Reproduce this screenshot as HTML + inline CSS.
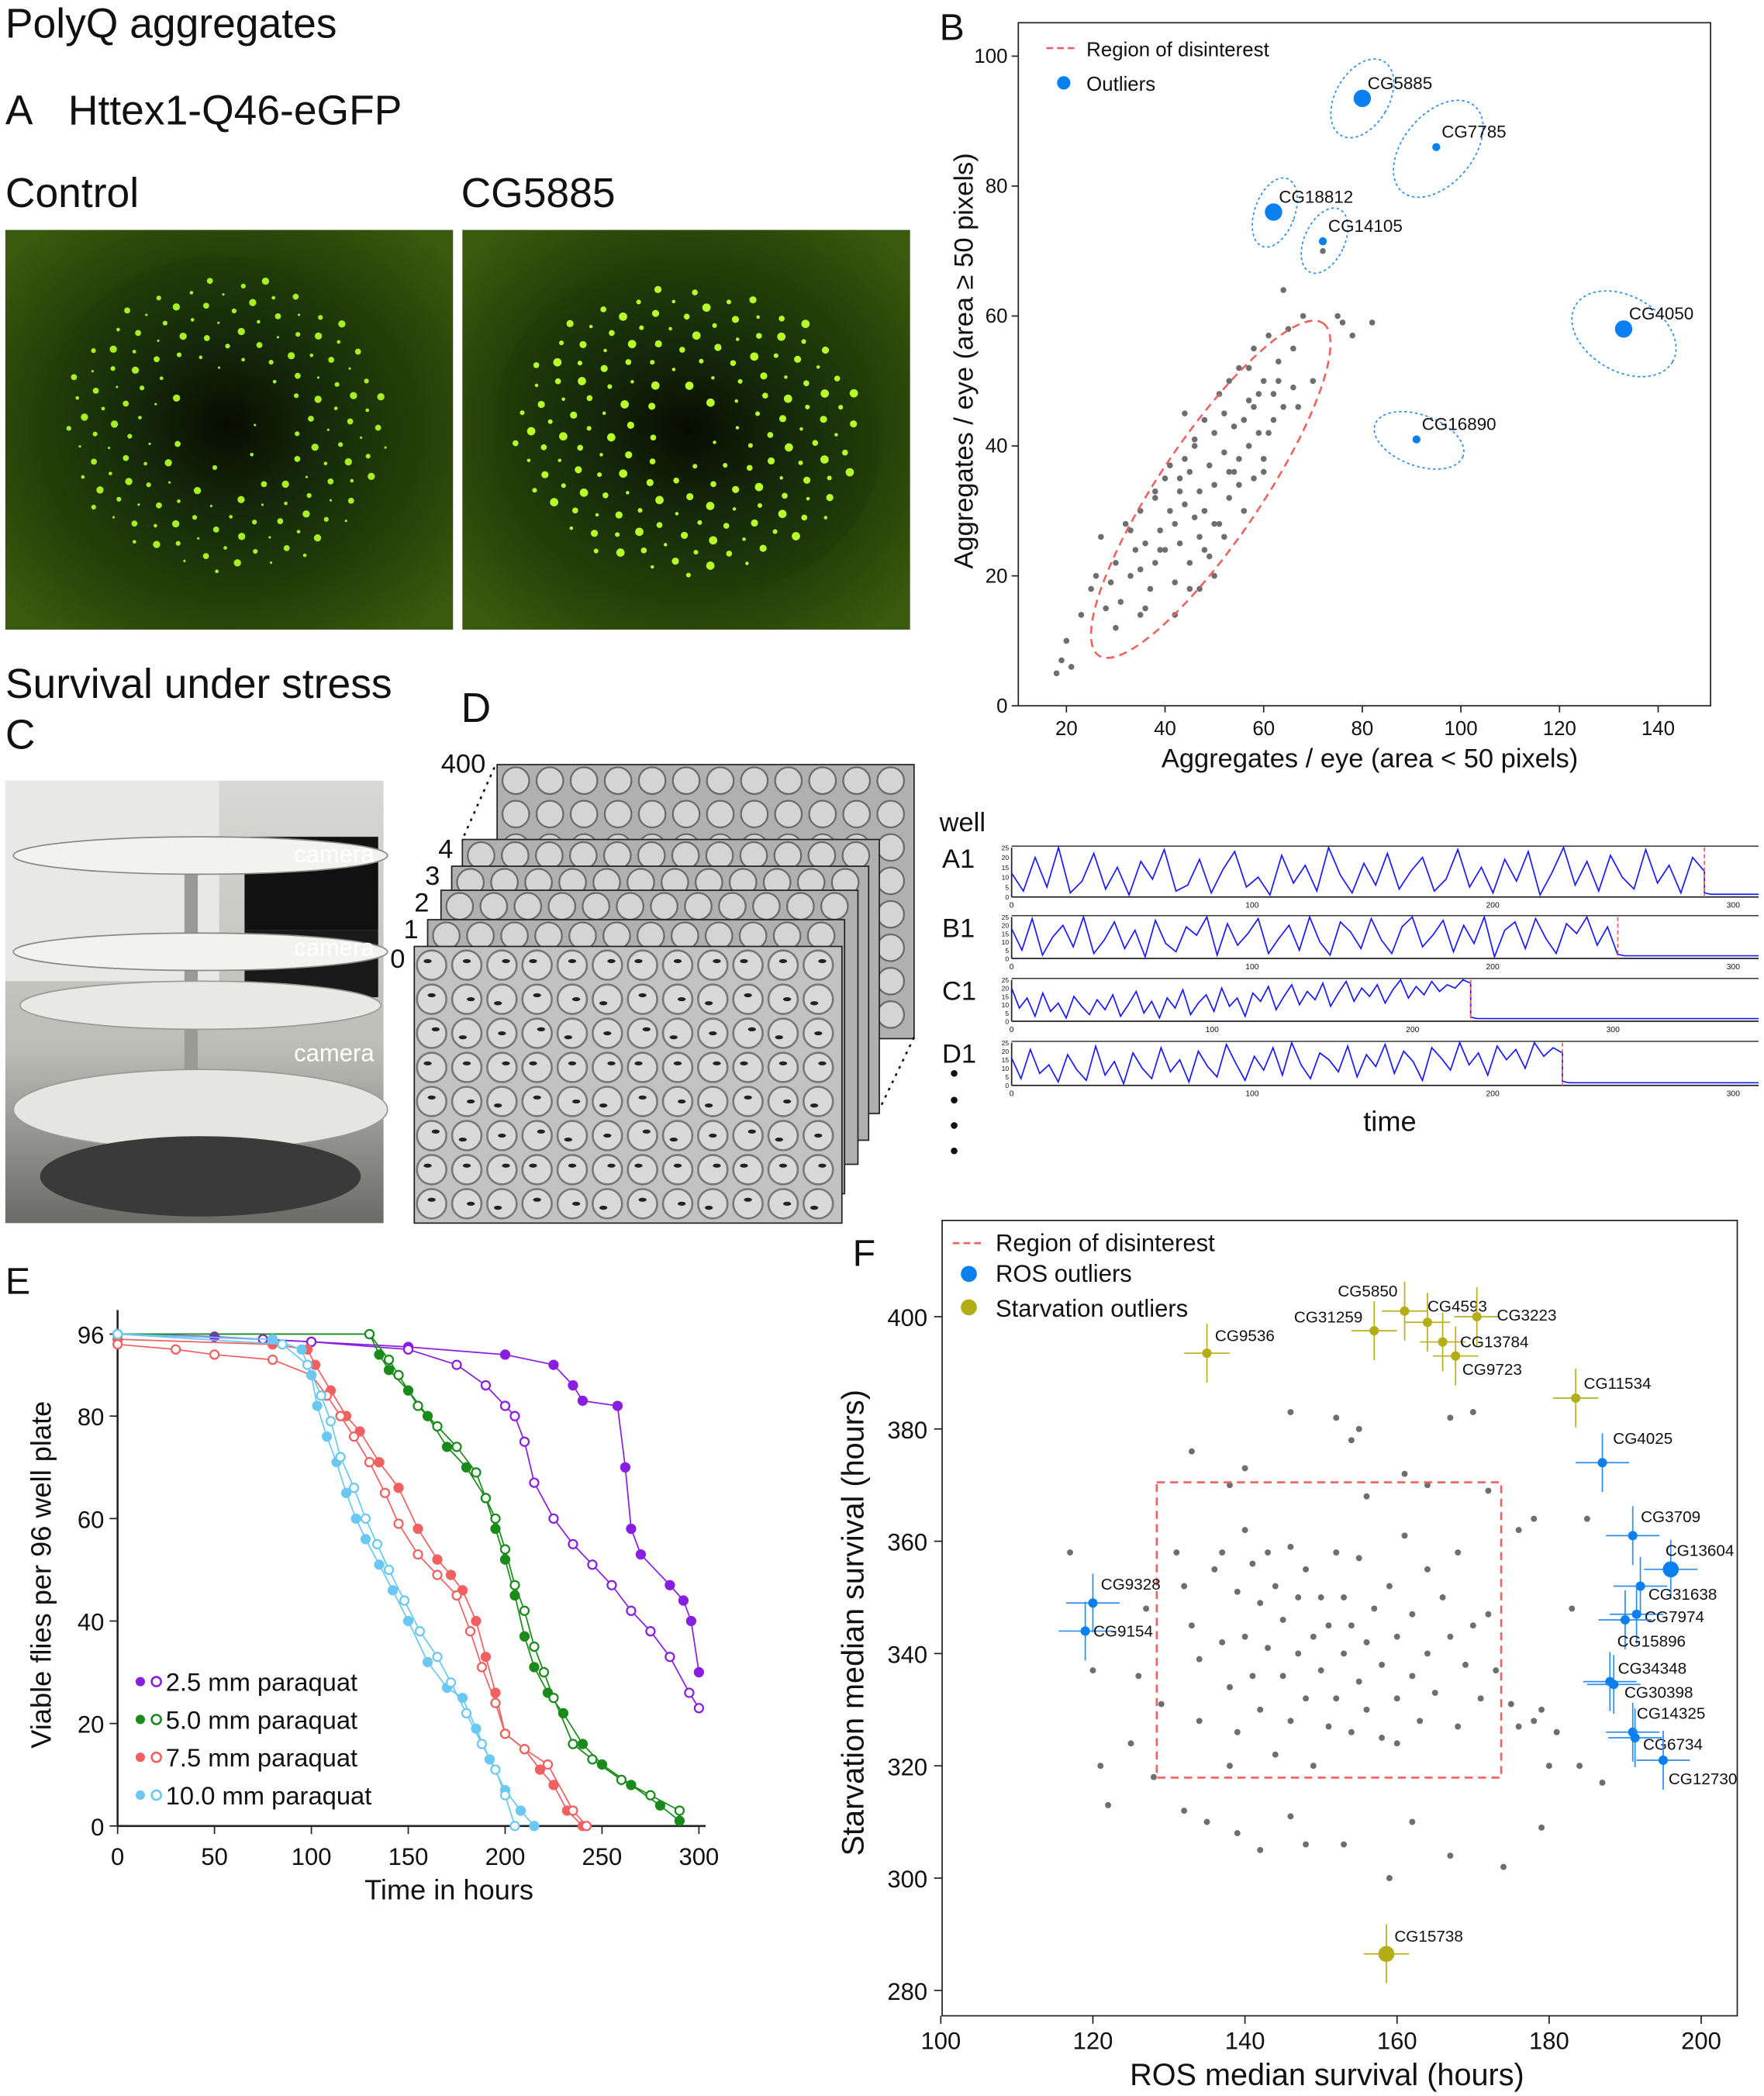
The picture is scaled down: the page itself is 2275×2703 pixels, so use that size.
<!DOCTYPE html>
<html><head><meta charset="utf-8"><style>
html,body{margin:0;padding:0;background:#fff}
svg{display:block}
text{font-family:"Liberation Sans",Arial,sans-serif;fill:#111}
</style></head><body>
<svg id="fig" width="2275" height="2703" viewBox="0 0 1320 1568" preserveAspectRatio="none" xmlns="http://www.w3.org/2000/svg">
<defs>
<radialGradient id="eyebg" cx="50%" cy="50%" r="65%"><stop offset="0" stop-color="#141f04"/><stop offset="0.6" stop-color="#223a06"/><stop offset="1" stop-color="#3a5a0e"/></radialGradient>
<radialGradient id="eye" cx="50%" cy="50%" r="50%"><stop offset="0" stop-color="#070c01"/><stop offset="0.5" stop-color="#15280a"/><stop offset="1" stop-color="#223d08"/></radialGradient>
<linearGradient id="room" x1="0" y1="0" x2="0" y2="1"><stop offset="0" stop-color="#d8d8d4"/><stop offset="0.6" stop-color="#bdbdb8"/><stop offset="1" stop-color="#6a6a68"/></linearGradient>
</defs>
<text x="4" y="28" font-size="31">PolyQ aggregates</text>
<text x="4" y="93" font-size="31">A</text>
<text x="51" y="93" font-size="31">Httex1-Q46-eGFP</text>
<text x="4" y="155" font-size="31">Control</text>
<text x="345" y="155" font-size="31">CG5885</text>
<g id="photoA1"><rect x="4" y="172" width="335" height="299" fill="url(#eyebg)"/><ellipse cx="170" cy="318" rx="135" ry="125" fill="url(#eye)" transform="rotate(20 170 318)"/></g>
<g id="photoA2"><rect x="346" y="172" width="335" height="299" fill="url(#eyebg)"/><ellipse cx="515" cy="322" rx="145" ry="120" fill="url(#eye)" transform="rotate(15 515 322)"/></g>
<text x="4" y="522" font-size="31">Survival under stress</text>
<text x="4" y="560" font-size="31">C</text>
<text x="345" y="540" font-size="31">D</text>
<g>
<rect x="4" y="584" width="283" height="331" fill="url(#room)"/>
<rect x="4" y="584" width="160" height="150" fill="#e8e8e6"/>
<rect x="183" y="626" width="100" height="70" fill="#111"/><rect x="183" y="696" width="100" height="50" fill="#1a1a1a"/>
<rect x="138" y="640" width="10" height="240" fill="#9a9a98"/>
<ellipse cx="150" cy="640" rx="140" ry="14" fill="#f2f2f0" stroke="#888"/>
<ellipse cx="150" cy="712" rx="140" ry="14" fill="#f2f2f0" stroke="#888"/>
<ellipse cx="150" cy="752" rx="135" ry="18" fill="#e8e8e6" stroke="#999"/>
<ellipse cx="150" cy="830" rx="140" ry="30" fill="#e5e5e3" stroke="#999"/>
<ellipse cx="150" cy="880" rx="120" ry="30" fill="#3a3a3a"/>
<text x="220" y="645" font-size="18" style="fill:#fff">camera</text>
<text x="220" y="715" font-size="18" style="fill:#fff">camera</text>
<text x="220" y="794" font-size="18" style="fill:#fff">camera</text>
</g>
<g id="plates"></g>
<g id="panelB"></g>
<g id="panelD"></g>
<g id="panelE"></g>
<g id="panelF"></g>
</svg>
<script>
const NS='http://www.w3.org/2000/svg';
function el(tag,attrs,parent,txt){const e=document.createElementNS(NS,tag);for(const k in attrs)e.setAttribute(k,attrs[k]);if(txt!==undefined)e.textContent=txt;parent.appendChild(e);return e;}

/* ---------- Panel B data ---------- */
const scatterB=[[18,5],[20,10],[21,6],[19,7],[25,18],[27,26],[28,15],[26,20],[30,22],[31,16],[32,28],[33,20],[34,24],[35,30],[35,14],[36,25],[37,18],[38,32],[38,22],[39,27],[40,24],[40,35],[41,30],[42,19],[42,28],[43,33],[43,25],[44,38],[44,31],[45,22],[45,36],[46,29],[46,40],[47,26],[47,33],[48,44],[48,30],[49,37],[49,23],[50,42],[50,34],[51,48],[51,28],[52,39],[52,45],[53,32],[53,50],[54,36],[54,43],[55,38],[55,52],[56,44],[56,30],[57,47],[57,40],[58,55],[58,46],[59,42],[60,50],[60,38],[61,57],[62,48],[62,44],[63,53],[64,64],[65,58],[66,55],[67,46],[68,60],[70,50],[72,70],[75,60],[76,59],[78,57],[30,12],[33,27],[36,15],[39,24],[42,14],[45,18],[48,24],[52,26],[55,34],[58,35],[61,42],[64,46],[47,18],[50,28],[53,36],[56,44],[59,48],[44,45],[41,37],[38,33],[35,21],[50,20],[46,41],[43,35],[63,50],[66,49],[82,59],[60,36],[57,52],[23,14],[29,19]];
const outlierNames=['CG5885','CG7785','CG18812','CG14105','CG4050','CG16890'];
const outlierX=[80,95,62,72,133,91];
const outlierY=[93.5,86,76,71.5,58,41];
const outlierBig=[1,0,1,0,1,0];
const bXTicks=[20,40,60,80,100,120,140];
const bYTicks=[0,20,40,60,80,100];

/* ---------- Panel D data ---------- */
const wells=['A1','B1','C1','D1'];
const deathTimes=[288,252,229,229];
const traceA1=[12,3,20,5,25,2,8,22,4,15,1,18,9,24,3,6,19,2,14,23,5,10,1,21,7,16,3,25,11,2,17,6,22,4,13,20,3,9,24,5,15,2,19,8,23,1,12,25,6,18,3,21,10,4,24,7,16,2,20,13];
const traceB1=[18,5,24,2,13,20,7,25,3,11,22,6,17,1,23,9,4,19,14,25,2,21,8,15,24,3,12,20,5,25,10,2,22,16,6,24,11,3,19,25,7,14,23,4,20,9,25,1,17,22,6,24,12,3,21,15,25,8,19,2];
const traceC1=[20,8,14,3,17,6,11,2,15,9,4,13,7,16,3,10,18,5,12,2,14,8,19,4,11,16,6,20,9,14,3,17,12,21,7,15,22,10,18,13,23,9,17,24,12,20,15,22,11,19,25,14,21,16,24,18,22,20,25,23];
const traceD1=[16,4,21,7,12,2,18,9,3,23,6,14,1,19,10,4,22,8,15,2,20,11,5,24,13,3,17,9,22,6,25,12,4,19,15,8,23,5,18,11,24,7,20,14,3,22,16,9,25,12,19,6,23,15,21,10,25,17,22,19];
const traces=[traceA1,traceB1,traceC1,traceD1];

/* ---------- Panel E data ---------- */
const eTimes25f=[0,50,100,150,200,225,235,240,258,262,265,270,285,292,296,300];
const eCount25f=[96,95.5,94.5,93.5,92,90,86,83,82,70,58,53,47,44,40,30];
const eTimes25o=[0,75,100,150,175,190,200,205,210,215,225,235,245,255,265,275,285,295,300];
const eCount25o=[96,95,94.5,93,90,86,82,80,75,67,60,55,51,47,42,38,33,26,23];
const eTimes50f=[0,130,135,140,150,160,170,180,190,195,200,205,210,215,222,230,240,250,265,280,290];
const eCount50f=[96,96,92,89,85,80,74,70,64,58,52,45,37,31,26,22,16,12,8,4,1];
const eTimes50o=[0,130,140,145,155,165,175,185,190,195,200,205,210,215,220,225,235,245,260,275,290];
const eCount50o=[96,96,91,88,82,78,74,69,64,60,54,47,42,35,30,25,16,13,9,6,3];
const eTimes75f=[0,80,98,102,110,118,125,135,145,155,165,172,178,185,190,195,200,210,218,225,232,240];
const eCount75f=[95,94,93,90,85,80,77,71,66,58,52,49,46,40,33,26,18,15,11,8,3,0];
const eTimes75o=[0,30,50,80,100,108,115,122,130,138,145,155,165,175,182,188,195,200,210,222,235,242];
const eCount75o=[94,93,92,91,88,84,80,76,71,65,59,53,49,45,38,31,24,18,15,12,3,0];
const eTimes10f=[0,80,95,100,103,108,113,118,123,128,135,142,150,160,170,178,185,192,200,208,215];
const eCount10f=[96,95,93,88,82,76,71,65,60,56,51,46,40,32,27,25,19,13,7,3,0];
const eTimes10o=[0,85,98,105,110,115,122,128,134,140,148,156,165,172,180,188,195,200,205];
const eCount10o=[96,94,90,84,79,72,66,60,55,50,44,38,33,28,22,16,11,6,0];
const eLabels=['2.5 mm paraquat','5.0 mm paraquat','7.5 mm paraquat','10.0 mm paraquat'];
const eColors=['#8a1ee0','#1a8a1a','#f06060','#6ac8f2'];
const eXTicks=[0,50,100,150,200,250,300];
const eYTicks=[0,20,40,60,80,96];

/* ---------- Panel F data ---------- */
const scatterF=[[117,358],[120,337],[121,320],[122,313],[125,324],[126,336],[127,348],[129,331],[131,358],[132,352],[133,345],[134,328],[134,339],[135,310],[136,355],[137,342],[137,358],[138,320],[138,334],[139,351],[139,326],[140,343],[140,362],[141,356],[141,336],[142,330],[142,349],[143,358],[143,341],[144,322],[144,352],[145,336],[145,346],[146,359],[146,328],[147,340],[147,350],[148,332],[148,355],[149,343],[149,320],[150,350],[150,337],[151,327],[151,345],[152,358],[152,332],[153,340],[153,350],[154,326],[154,345],[155,335],[155,357],[156,342],[156,330],[157,348],[158,338],[158,325],[159,352],[160,343],[160,332],[161,361],[162,336],[162,347],[163,328],[164,355],[164,340],[165,333],[166,350],[167,343],[168,327],[168,358],[169,338],[170,345],[171,332],[172,347],[173,337],[175,331],[176,327],[178,328],[179,330],[180,320],[181,326],[133,376],[138,370],[140,373],[146,383],[152,382],[154,378],[155,380],[156,368],[161,372],[164,370],[167,382],[170,383],[172,369],[176,362],[178,364],[183,348],[185,364],[139,308],[142,305],[146,311],[148,306],[153,306],[159,300],[162,310],[167,304],[174,302],[179,309],[187,317],[184,320],[160,324],[128,318],[132,312]];
const rosNames=['CG9328','CG9154','CG4025','CG3709','CG13604','CG31638','CG7974','CG15896','CG34348','CG30398','CG14325','CG6734','CG12730'];
const rosX=[120,119,187,191,196,192,191.5,190,188,188.5,191,191.3,195];
const rosY=[349,344,374,361,355,352,347,346,335,334.5,326,325,321];
const rosBig=[0,0,0,0,1,0,0,0,0,0,0,0,0];
const starvNames=['CG9536','CG5850','CG31259','CG4593','CG3223','CG13784','CG9723','CG11534','CG15738'];
const starvX=[135,161,157,164,170.5,166,167.7,183.5,158.6];
const starvY=[393.5,401,397.5,399,400,395.5,393,385.5,286.5];
const starvBig=[0,0,0,0,0,0,0,0,1];
const fXTicks=[100,120,140,160,180,200];
const fYTicks=[280,300,320,340,360,380,400];

/* ================= drawing ================= */
(function photos(){
  const a1=document.getElementById('photoA1'), a2=document.getElementById('photoA2');
  for(let i=0;i<170;i++){
    const ang=i*2.39996, r=Math.sqrt((i+0.5)/170);
    const rr=r*0.85+0.12;
    const x1=170+Math.cos(ang)*rr*125, y1=318+Math.sin(ang)*rr*115;
    const x2=515+Math.cos(ang+0.5)*rr*135, y2=322+Math.sin(ang+0.5)*rr*112;
    const s=0.9+((i*7)%5)*0.45;
    if(r>0.35||i%3==0){
      const d1=el('circle',{cx:x1,cy:y1,r:s,fill:'#a8f020'},a1);
      
      
    }
    const d2=el('circle',{cx:x2,cy:y2,r:s+0.4,fill:'#b8ff28'},a2);
    
    
  }
})();

(function plates(){
  const g=document.getElementById('plates');
  const offs=[[372,572,312,205],[346,628,312,205],[338,648,312,205],[330,666,312,205],[320,688,312,205]];
  offs.forEach((o,i)=>{
    const r=el('rect',{x:o[0],y:o[1],width:o[2],height:o[3],fill:'#b0b0b0',stroke:'#222','stroke-width':1},g);
    
    
    const rows=i==0?8:1;
    for(let rr=0;rr<rows;rr++)for(let c=0;c<12;c++){
      el('circle',{cx:o[0]+14+c*25.5,cy:o[1]+12+rr*25,r:10,fill:'#d4d4d4',stroke:'#6a6a6a','stroke-width':1.3},g);
    }
  });
  const main=el('rect',{x:310,y:708,width:320,height:207,fill:'#c2c2c2',stroke:'#222'},g);
  
  
  for(let r=0;r<8;r++)for(let c=0;c<12;c++){
    const w=el('circle',{cx:323+c*26.3,cy:722+r*25.5,r:11,fill:'#d9d9d9',stroke:'#777','stroke-width':1.5},g);
    
    
    const f=el('ellipse',{cx:323+c*26.3+((r+c)%3-1)*3,cy:722+r*25.5+((r*c)%3-1)*3,rx:3,ry:1.5,fill:'#222'},g);
    
    
  }
  [['400',330,578],['4',328,642],['3',318,662],['2',310,682],['1',302,702],['0',292,724]].forEach(t=>{
    const tx=el('text',{x:t[1],y:t[2],'font-size':20},g,t[0]);
    
    
  });
  el('path',{d:'M370 574 L346 628 M684 776 L658 830',stroke:'#111','stroke-dasharray':'2 4','stroke-width':1.5,fill:'none'},g);
})();

(function panelB(){
  const g=document.getElementById('panelB');
  const X=v=>798+(v-20)*3.69, Y=v=>528-v*4.86;
  el('text',{x:703,y:30,'font-size':28},g,'B');
  const box=el('rect',{x:762,y:17,width:518,height:511,fill:'none',stroke:'#222','stroke-width':1},g);
  
  
  bXTicks.forEach(t=>{el('line',{x1:X(t),x2:X(t),y1:528,y2:533,stroke:'#222'},g);
    const tx=el('text',{x:X(t),y:550,'font-size':15,'text-anchor':'middle'},g,t);
    
    });
  bYTicks.forEach(t=>{el('line',{x1:757,x2:762,y1:Y(t),y2:Y(t),stroke:'#222'},g);
    const tx=el('text',{x:754,y:Y(t)+5,'font-size':15,'text-anchor':'end'},g,t);
    
    });
  const xt=el('text',{x:1025,y:574,'font-size':20,'text-anchor':'middle'},g,'Aggregates / eye (area < 50 pixels)');
  
  
  const yt=el('text',{x:0,y:0,'font-size':20,'text-anchor':'middle',transform:'translate(728,270) rotate(-90)'},g,'Aggregates / eye (area ≥ 50 pixels)');
  
  
  scatterB.forEach(p=>{const c=el('circle',{cx:X(p[0]),cy:Y(p[1]),r:2.2,fill:'#6e6e6e'},g);
    
    });
  const reg=el('ellipse',{cx:906,cy:366,rx:150,ry:38,fill:'none',stroke:'#f06060','stroke-width':1.5,'stroke-dasharray':'6 4',transform:'rotate(-56 906 366)'},g);
  
  
  const ell=[[20,32,30,0,0],[26,42,40,2,0],[15,27,20,1,0],[15,26,25,1,-1],[42,28,30,2,3],[35,19,20,2,0]];
  outlierNames.forEach((n,i)=>{
    const cx=X(outlierX[i]), cy=Y(outlierY[i]);
    const e=ell[i];
    const ov=el('ellipse',{cx:cx+e[3],cy:cy+e[4],rx:e[0],ry:e[1],fill:'none',stroke:'#2b8ef0','stroke-width':1,'stroke-dasharray':'2 2',transform:`rotate(${e[2]} ${cx} ${cy})`},g);
    
    
    const c=el('circle',{cx:cx,cy:cy,r:outlierBig[i]?6.5:3,fill:'#0a7ff0'},g);
    
    
    const t=el('text',{x:cx+4,y:cy-7,'font-size':13},g,n);
    
    
  });
  el('line',{x1:783,x2:805,y1:36,y2:36,stroke:'#f06060','stroke-width':1.5,'stroke-dasharray':'5 3'},g);
  const l1=el('text',{x:813,y:42,'font-size':15},g,'Region of disinterest');
  
  
  el('circle',{cx:796,cy:62,r:5,fill:'#0a7ff0'},g);
  const l2=el('text',{x:813,y:68,'font-size':15},g,'Outliers');
  
  
})();

(function panelD(){
  const g=document.getElementById('panelD');
  el('text',{x:703,y:622,'font-size':20},g,'well');
  const bases=[671,717,764,812], scales=[1.8,1.8,1.5,1.8], tops=[634,686,733,780];
  wells.forEach((w,i)=>{
    const b=bases[i], s=scales[i], x0=757, h=b-tops[i];
    const lab=el('text',{x:705,y:tops[i]+15,'font-size':20},g,w);
    
    
    el('line',{x1:x0,x2:1316,y1:b,y2:b,stroke:'#222','stroke-width':1},g);
    el('line',{x1:x0,x2:x0,y1:tops[i],y2:b,stroke:'#222','stroke-width':1},g);
    el('line',{x1:x0,x2:1316,y1:tops[i]-1,y2:tops[i]-1,stroke:'#222','stroke-width':0.8},g);
    [0,100,200,300].forEach(t=>{const tx=el('text',{x:x0+t*s,y:b+8,'font-size':6,'text-anchor':'middle'},g,t);
      
      });
    [0,5,10,15,20,25].forEach(t=>el('text',{x:x0-2,y:b-t/25*h+2,'font-size':5,'text-anchor':'end'},g,t));
    const tr=traces[i], dt=deathTimes[i];
    let d='';
    tr.forEach((v,k)=>{const x=x0+(k/(tr.length-1))*dt*s, y=b-v/25*h; d+=(k?'L':'M')+x.toFixed(1)+' '+y.toFixed(1);});
    d+=`L${x0+dt*s} ${b-3} L${x0+dt*s+5} ${b-2} L1316 ${b-2}`;
    const p=el('path',{d:d,stroke:'#1a1aff','stroke-width':1,fill:'none'},g);
    
    
    el('line',{x1:x0+dt*s,x2:x0+dt*s,y1:tops[i],y2:b,stroke:'#f06060','stroke-dasharray':'3 2'},g);
  });
  const tl=el('text',{x:1040,y:846,'font-size':21,'text-anchor':'middle'},g,'time');
  
  
  [803,823,842,861].forEach(y=>el('circle',{cx:714,cy:y,r:2.5,fill:'#111'},g));
})();

(function panelE(){
  const g=document.getElementById('panelE');
  const X=v=>88+v*1.45, Y=v=>1366-v*3.833;
  el('text',{x:4,y:968,'font-size':28},g,'E');
  el('line',{x1:88,x2:88,y1:980,y2:1366,stroke:'#222','stroke-width':1.5},g);
  el('line',{x1:88,x2:528,y1:1366,y2:1366,stroke:'#222','stroke-width':1.5},g);
  eXTicks.forEach(t=>{el('line',{x1:X(t),x2:X(t),y1:1366,y2:1372,stroke:'#222'},g);
    const tx=el('text',{x:X(t),y:1395,'font-size':18,'text-anchor':'middle'},g,t);
    
    });
  eYTicks.forEach(t=>{el('line',{x1:82,x2:88,y1:Y(t),y2:Y(t),stroke:'#222'},g);
    const tx=el('text',{x:78,y:Y(t)+7,'font-size':18,'text-anchor':'end'},g,t);
    
    });
  const xt=el('text',{x:336,y:1421,'font-size':21,'text-anchor':'middle'},g,'Time in hours');
  
  
  const yt=el('text',{x:0,y:0,'font-size':21,'text-anchor':'middle',transform:'translate(38,1178) rotate(-90)'},g,'Viable flies per 96 well plate');
  
  
  const series=[[eTimes25f,eCount25f,0,1],[eTimes25o,eCount25o,0,0],[eTimes50f,eCount50f,1,1],[eTimes50o,eCount50o,1,0],[eTimes75f,eCount75f,2,1],[eTimes75o,eCount75o,2,0],[eTimes10f,eCount10f,3,1],[eTimes10o,eCount10o,3,0]];
  series.forEach(s=>{
    const col=eColors[s[2]];
    let d='';
    s[0].forEach((t,k)=>{d+=(k?'L':'M')+X(t).toFixed(1)+' '+Y(s[1][k]).toFixed(1);});
    const p=el('path',{d:d,stroke:col,'stroke-width':1,fill:'none'},g);
    
    
    s[0].forEach((t,k)=>{
      const c=el('circle',{cx:X(t),cy:Y(s[1][k]),r:3.2,fill:s[3]?col:'#fff',stroke:col,'stroke-width':1.3},g);
      
      
    });
  });
  eLabels.forEach((l,i)=>{
    const y=1258+i*28.3;
    el('circle',{cx:105,cy:y,r:3.5,fill:eColors[i]},g);
    el('circle',{cx:117,cy:y,r:3.5,fill:'#fff',stroke:eColors[i],'stroke-width':1.5},g);
    const t=el('text',{x:124,y:y+7,'font-size':19},g,l);
    
    
  });
})();

(function panelF(){
  const g=document.getElementById('panelF');
  const X=v=>704+(v-100)*5.69, Y=v=>985-(v-400)*4.2;
  el('text',{x:638,y:947,'font-size':28},g,'F');
  const box=el('rect',{x:705,y:913,width:595,height:595,fill:'none',stroke:'#222','stroke-width':1},g);
  
  
  fXTicks.forEach(t=>{el('line',{x1:X(t),x2:X(t),y1:1508,y2:1514,stroke:'#222'},g);
    const tx=el('text',{x:X(t),y:1533,'font-size':18,'text-anchor':'middle'},g,t);
    
    });
  fYTicks.forEach(t=>{el('line',{x1:699,x2:705,y1:Y(t),y2:Y(t),stroke:'#222'},g);
    const tx=el('text',{x:694,y:Y(t)+7,'font-size':18,'text-anchor':'end'},g,t);
    
    });
  const xt=el('text',{x:993,y:1560,'font-size':23,'text-anchor':'middle'},g,'ROS median survival (hours)');
  
  
  const yt=el('text',{x:0,y:0,'font-size':23,'text-anchor':'middle',transform:'translate(646,1214) rotate(-90)'},g,'Starvation median survival (hours)');
  
  
  scatterF.forEach(p=>{const c=el('circle',{cx:X(p[0]),cy:Y(p[1]),r:2.3,fill:'#6e6e6e'},g);
    
    });
  const rx=X(128.4), ry=Y(370.5);
  const reg=el('rect',{x:rx,y:ry,width:X(173.7)-rx,height:Y(317.9)-ry,fill:'none',stroke:'#f06060','stroke-width':1.5,'stroke-dasharray':'6 4'},g);
  
  
  const rosLab=[[6,-10],[6,4],[8,-14],[6,-10],[-4,-10],[6,10],[6,6],[-6,20],[6,-6],[8,10],[3,-10],[6,9],[4,18]];
  rosNames.forEach((n,i)=>{
    const cx=X(rosX[i]), cy=Y(rosY[i]);
    el('path',{d:`M${cx-20} ${cy}H${cx+20}M${cx} ${cy-22}V${cy+22}`,stroke:'#2b8ef0','stroke-width':1},g);
    const c=el('circle',{cx:cx,cy:cy,r:rosBig[i]?6:3.5,fill:'#0a7ff0'},g);
    
    
    const t=el('text',{x:cx+rosLab[i][0],y:cy+rosLab[i][1],'font-size':12},g,n);
    
    
  });
  const stLab=[[6,-9],[-50,-11],[-60,-6],[0,-8],[15,3],[13,4],[5,14],[6,-7],[6,-9]];
  starvNames.forEach((n,i)=>{
    const cx=X(starvX[i]), cy=Y(starvY[i]);
    el('path',{d:`M${cx-17} ${cy}H${cx+17}M${cx} ${cy-22}V${cy+22}`,stroke:'#b8b020','stroke-width':1},g);
    const c=el('circle',{cx:cx,cy:cy,r:starvBig[i]?6:3.5,fill:'#b3ad16'},g);
    
    
    const t=el('text',{x:cx+stLab[i][0],y:cy+stLab[i][1],'font-size':12},g,n);
    
    
  });
  el('line',{x1:713,x2:737,y1:930,y2:930,stroke:'#f06060','stroke-width':1.5,'stroke-dasharray':'5 3'},g);
  const l1=el('text',{x:745,y:936,'font-size':18},g,'Region of disinterest');
  
  
  el('circle',{cx:725,cy:953,r:6,fill:'#0a7ff0'},g);
  const l2=el('text',{x:745,y:959,'font-size':18},g,'ROS outliers');
  
  
  el('circle',{cx:725,cy:978,r:6,fill:'#b3ad16'},g);
  const l3=el('text',{x:745,y:985,'font-size':18},g,'Starvation outliers');
  
  
})();
</script>
</body></html>
